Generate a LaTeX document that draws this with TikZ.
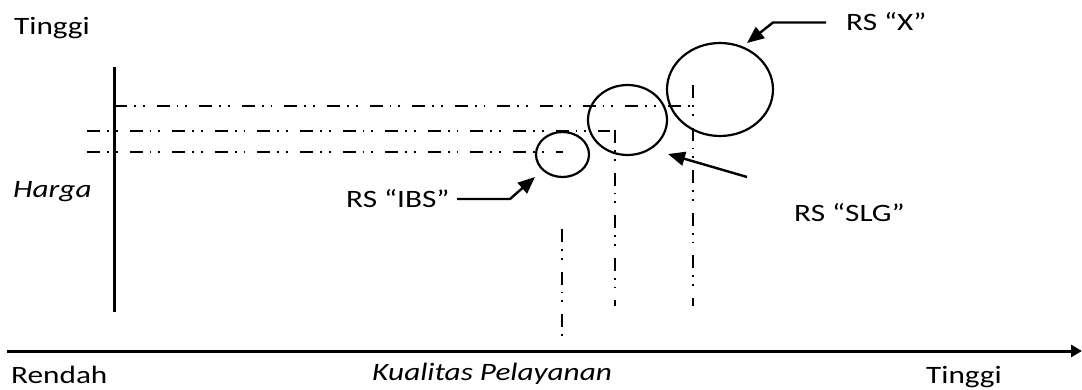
\documentclass[tikz,border=0pt]{standalone}
\usepackage{fontspec}
\setmainfont{Carlito}[FakeStretch=1.25]
\usetikzlibrary{arrows.meta,shapes.geometric}
\begin{document}
\begin{tikzpicture}[x=1pt,y=-1pt,
  lbl/.style={anchor=base west,inner sep=0pt,font=\fontsize{25}{29}\selectfont},
  guide/.style={line width=1.6pt,dash pattern=on 13pt off 7pt on 1.8pt off 7pt on 1.8pt off 12pt},
  oval/.style={draw,ellipse,line width=2.2pt,inner sep=0pt},
  axisline/.style={line width=3pt},
  pointer/.style={line width=2.4pt,-{Triangle[length=17pt,width=14pt]}}
]
\useasboundingbox (0,0) rectangle (1082,390);

% axes
\coordinate (vtop) at (114,67);
\coordinate (vbot) at (114,312);
\coordinate (hstart) at (7,351);
\coordinate (hend) at (1082,351);
\draw[axisline] (vtop) -- (vbot);
\draw[axisline,-{Triangle[length=11pt,width=12pt]}] (hstart) -- (hend);

% axis labels
\node[lbl] (tinggiy) at (14,35) {Tinggi};
\node[lbl] (harga) at (13,198) {\itshape Harga};
\node[lbl] (rendah) at (11,383) {Rendah};
\node[lbl] (kualitas) at (372,380) {\itshape Kualitas Pelayanan};
\node[lbl] (tinggix) at (926,383) {Tinggi};

% ellipses
\node[oval,minimum width=53pt,minimum height=45pt] (ibs) at (562.5,154.5) {};
\node[oval,minimum width=79pt,minimum height=70pt] (slg) at (627.5,120) {};
\node[oval,minimum width=106pt,minimum height=93pt] (x) at (720,89.5) {};

% guide lines
\coordinate (h1a) at (114,106);
\coordinate (h1b) at (693,106);
\coordinate (v1a) at (693,85);
\coordinate (v1b) at (693,306);
\coordinate (h2a) at (87,131);
\coordinate (h2b) at (610,131);
\coordinate (v2a) at (615,130);
\coordinate (v2b) at (615,306);
\coordinate (h3a) at (87,152);
\coordinate (h3b) at (563,152);
\coordinate (v3a) at (562,229);
\coordinate (v3b) at (562,340);
\draw[guide] (h1a) -- (h1b);
\draw[guide] (v1a) -- (v1b);
\draw[guide] (h2a) -- (h2b);
\draw[guide] (v2a) -- (v2b);
\draw[guide] (h3a) -- (h3b);
\draw[guide] (v3a) -- (v3b);

% labels with pointers
\node[lbl] (lx) at (846,31) {RS “X”};
\node[lbl] (lslg) at (794,222) {RS “SLG”};
\node[lbl] (libs) at (346,208) {RS “IBS”};

\coordinate (xs) at (826,22.5);
\coordinate (xb) at (773,22.5);
\coordinate (xt) at (747,43);
\draw[pointer] (xs) -- (xb) -- (xt);

\coordinate (ss) at (747,177);
\coordinate (st) at (668,154);
\draw[pointer] (ss) -- (st);

\coordinate (is) at (457,199);
\coordinate (ib) at (510,199);
\coordinate (it) at (535,177);
\draw[pointer] (is) -- (ib) -- (it);
\end{tikzpicture}
\end{document}
